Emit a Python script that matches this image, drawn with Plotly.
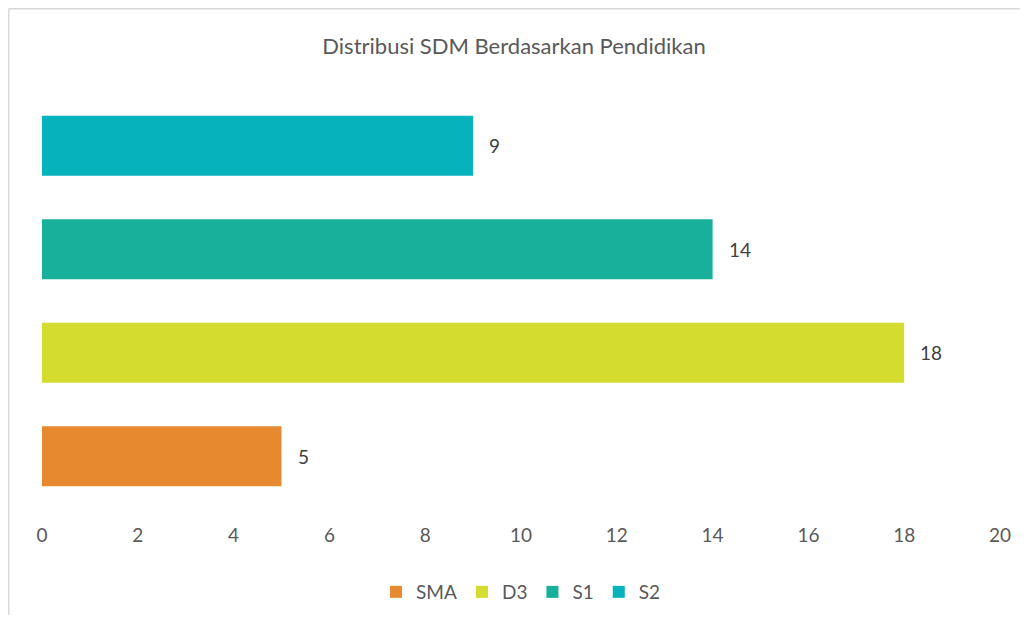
import plotly.graph_objects as go

categories = ["SMA", "D3", "S1", "S2"]
values = [5, 18, 14, 9]
colors = ["#E6892F", "#D4DC2F", "#18B09A", "#06B2BC"]
title_text = "Distribusi SDM Berdasarkan Pendidikan"
x_ticks = list(range(0, 21, 2))

font_family = "Lato"
W, H = 1012, 607
ML, MR, MT, MB = 34, 20, 86, 107
PW, PH = W - ML - MR, H - MT - MB

fig = go.Figure()
for cat, val, col in zip(categories, values, colors):
    fig.add_trace(go.Bar(
        y=[cat], x=[val], orientation="h", name=cat,
        marker=dict(color=col, line=dict(width=0)),
        width=0.58,
    ))
    fig.add_annotation(
        x=val, y=cat, text=str(val), showarrow=False,
        xanchor="left", xshift=14,
        font=dict(family=font_family, size=19, color="#404040"),
    )

fig.update_layout(
    width=W, height=H,
    margin=dict(l=ML, r=MR, t=MT, b=MB, autoexpand=False),
    paper_bgcolor="white", plot_bgcolor="white",
    barmode="overlay",
    title=dict(text=title_text, x=0.5, xanchor="center", y=1 - 38 / H, yanchor="middle",
               font=dict(family=font_family, size=22, color="#595959")),
    xaxis=dict(range=[0, 20], tickvals=x_ticks, showgrid=False, zeroline=False,
               showline=False, ticks="", ticklabelstandoff=14, automargin=False,
               tickfont=dict(family=font_family, size=19, color="#595959")),
    yaxis=dict(categoryorder="array", categoryarray=categories, showticklabels=False,
               showgrid=False, zeroline=False, showline=False, ticks="", automargin=False),
    legend=dict(orientation="h", x=0.5, xanchor="center", y=-84 / PH, yanchor="middle",
                font=dict(family=font_family, size=19, color="#595959"),
                itemwidth=30, tracegroupgap=0),
    showlegend=True,
    shapes=[
        dict(type="line", xref="paper", yref="paper",
             x0=(0.75 - ML) / PW, x1=(0.75 - ML) / PW, y0=1 + (MT - 0.75) / PH, y1=-0.5,
             line=dict(color="#D9D9D9", width=1.5)),
        dict(type="line", xref="paper", yref="paper",
             x0=(0.75 - ML) / PW, x1=1.1, y0=1 + (MT - 0.75) / PH, y1=1 + (MT - 0.75) / PH,
             line=dict(color="#D9D9D9", width=1.5)),
    ],
)

fig.write_html("out.html")
